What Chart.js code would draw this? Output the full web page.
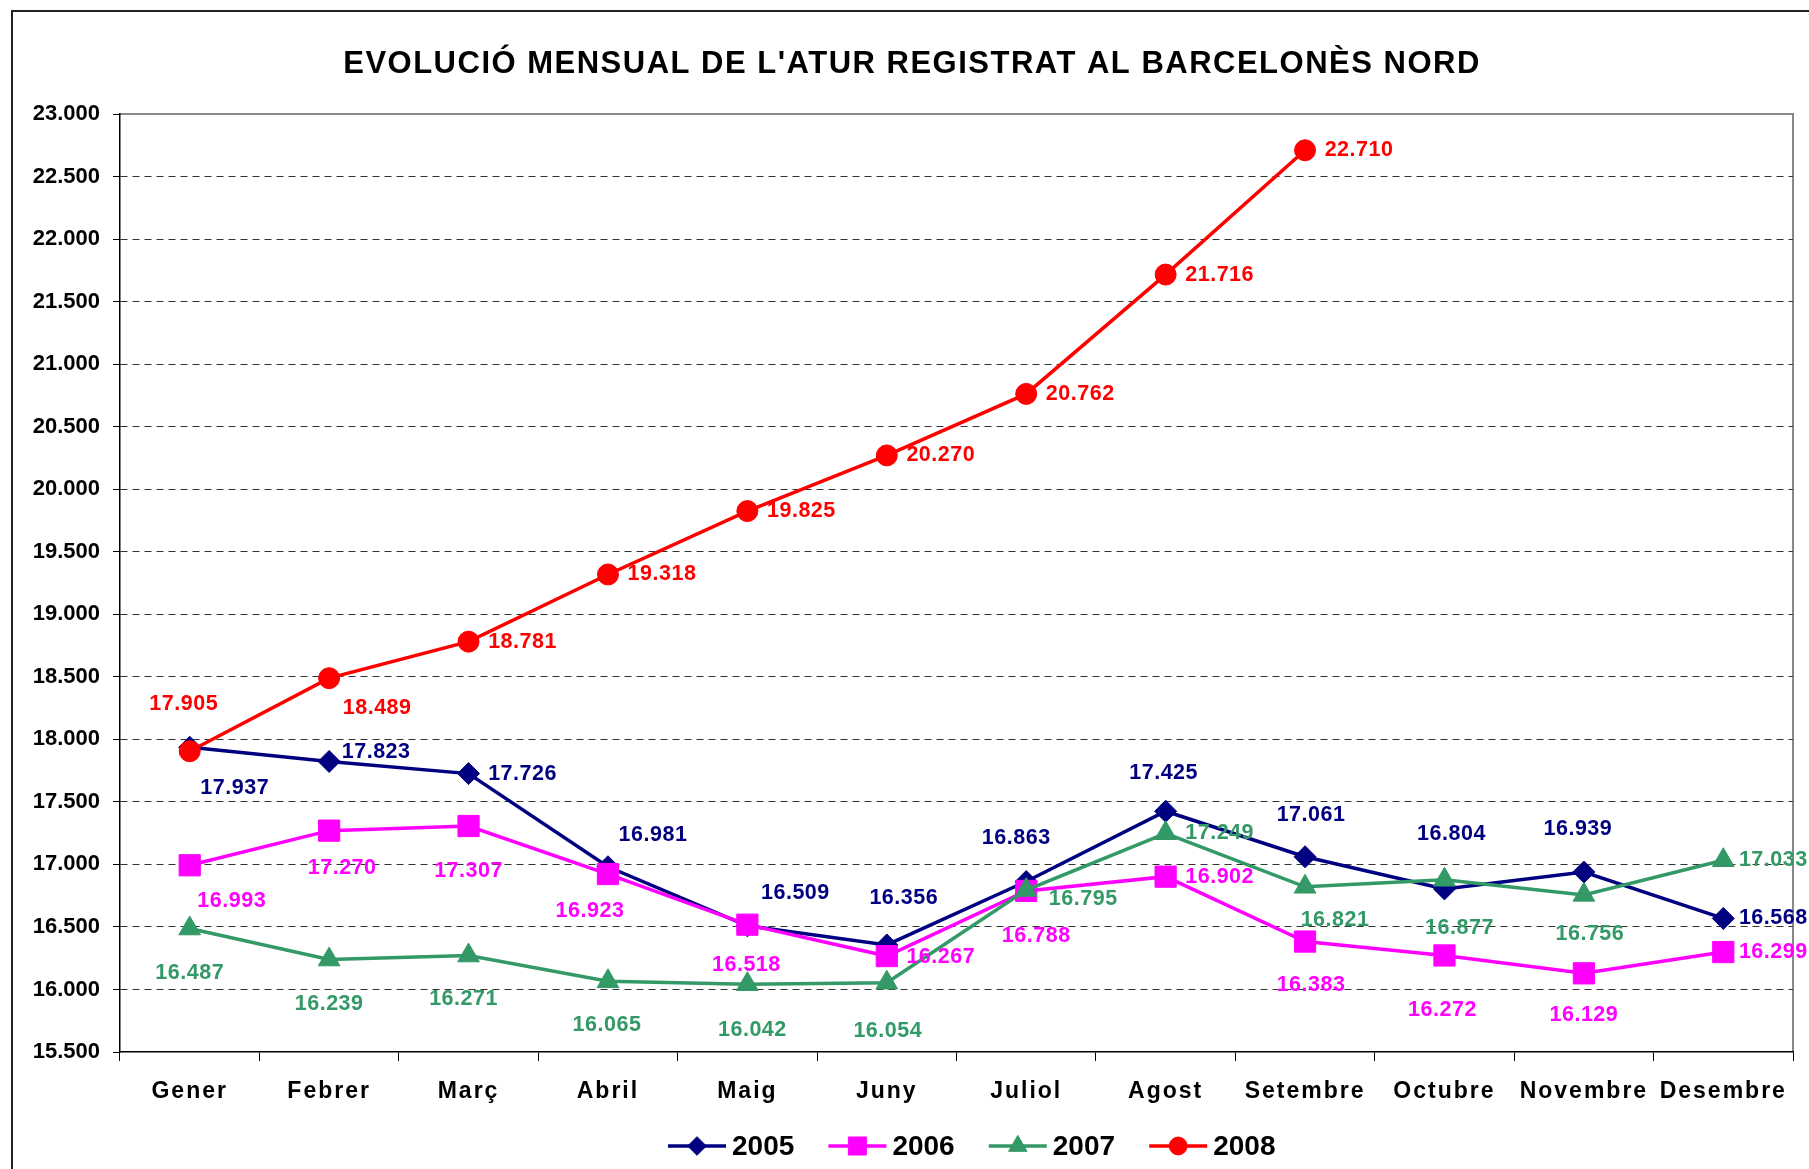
<!DOCTYPE html>
<html>
<head>
<meta charset="utf-8">
<script src="https://cdn.jsdelivr.net/npm/chart.js@4"></script>
<style>
  html, body { margin: 0; padding: 0; background: #fff; }
  #wrap { width: 1809px; height: 1169px; }
</style>
</head>
<body>
<div id="wrap"><canvas id="grafic" width="1809" height="1169"></canvas></div>
<script>
const titol = "EVOLUCIÓ MENSUAL DE L'ATUR REGISTRAT AL BARCELONÈS NORD";
const mesos = ["Gener", "Febrer", "Març", "Abril", "Maig", "Juny", "Juliol", "Agost", "Setembre", "Octubre", "Novembre", "Desembre"];
const anys = ["2005", "2006", "2007", "2008"];

const atur2005 = [17937, 17823, 17726, 16981, 16509, 16356, 16863, 17425, 17061, 16804, 16939, 16568];
const atur2006 = [16993, 17270, 17307, 16923, 16518, 16267, 16788, 16902, 16383, 16272, 16129, 16299];
const atur2007 = [16487, 16239, 16271, 16065, 16042, 16054, 16795, 17249, 16821, 16877, 16756, 17033];
const atur2008 = [17905, 18489, 18781, 19318, 19825, 20270, 20762, 21716, 22710];

const yMin = 15500, yMax = 23000, yPas = 500;

const colors = ["#000080", "#FF00FF", "#339966", "#FF0000"];
const marcadors = ["rectRot", "rect", "triangle", "circle"];
const midaMarcador = [11, 15, 12.5, 10.5];

// desplaçament de cada etiqueta respecte al seu punt (px)
const etiq2005 = [[45,41],[47,-9],[54,0],[45,-32],[48,-33],[17,-47],[-10,-43],[-2,-38],[6,-42],[7,-55],[-6,-43],[50,0]];
const etiq2006 = [[42,36],[13,37],[0,45],[-18,37],[-1,40],[54,1],[10,45],[54,0],[6,44],[-2,55],[0,42],[50,0]];
const etiq2007 = [[0,45],[0,45],[-5,44],[-1,44],[5,46],[1,48],[57,9],[54,0],[30,33],[15,48],[6,39],[50,0]];
const etiq2008 = [[-6,-47],[48,30],[54,0],[54,0],[54,0],[54,0],[54,0],[54,0],[54,0]];
const posEtiquetes = [etiq2005, etiq2006, etiq2007, etiq2008];

const FONT = "'Liberation Sans', Arial, sans-serif";

function fmt(v) {
  return String(v).replace(/\B(?=(\d{3})+(?!\d))/g, ".");
}

const series = [atur2005, atur2006, atur2007, atur2008];

const datasets = series.map((dades, i) => ({
  label: anys[i],
  data: dades,
  borderColor: colors[i],
  backgroundColor: colors[i],
  borderWidth: 3.5,
  pointStyle: marcadors[i],
  pointRadius: midaMarcador[i],
  pointBorderWidth: 1,
  pointBackgroundColor: colors[i],
  pointBorderColor: colors[i],
  tension: 0,
  fill: false,
  clip: false,
  order: 3 - i,
}));

const fons = {
  id: "fons",
  beforeDraw(chart) {
    const ctx = chart.ctx;
    const a = chart.chartArea;
    ctx.save();
    ctx.fillStyle = "#fff";
    ctx.fillRect(0, 0, chart.width, chart.height);
    // marc exterior
    ctx.strokeStyle = "#222";
    ctx.lineWidth = 2;
    ctx.beginPath();
    ctx.moveTo(12, chart.height);
    ctx.lineTo(12, 11);
    ctx.lineTo(chart.width, 11);
    ctx.stroke();
    // marc de l'àrea de dibuix
    ctx.strokeStyle = "#888";
    ctx.lineWidth = 2;
    ctx.beginPath();
    ctx.moveTo(a.left, a.top);
    ctx.lineTo(a.right, a.top);
    ctx.lineTo(a.right, a.bottom);
    ctx.stroke();
    ctx.restore();

    // espaiat de lletres per als mesos
    const sx = chart.scales.x;
    if (!sx._espaiat) {
      const orig = sx.drawLabels.bind(sx);
      sx.drawLabels = function (area) {
        const c = this.ctx;
        c.save();
        c.letterSpacing = "2px";
        orig(area);
        c.restore();
      };
      sx._espaiat = true;
    }
  },
  afterDatasetsDraw(chart) {
    const ctx = chart.ctx;
    ctx.save();
    ctx.font = "bold 21.5px " + FONT;
    ctx.letterSpacing = "0.5px";
    ctx.textAlign = "center";
    ctx.textBaseline = "middle";
    chart.data.datasets.forEach((ds, i) => {
      const meta = chart.getDatasetMeta(i);
      const offs = posEtiquetes[i];
      ctx.fillStyle = colors[i];
      meta.data.forEach((pt, j) => {
        const v = ds.data[j];
        if (v == null) return;
        ctx.fillText(fmt(v), pt.x + offs[j][0], pt.y + offs[j][1]);
      });
    });
    ctx.restore();
  },
  afterDraw(chart) {
    const ctx = chart.ctx;
    ctx.save();
    // títol
    ctx.font = "bold 31px " + FONT;
    ctx.letterSpacing = "1.5px";
    ctx.fillStyle = "#000";
    ctx.textAlign = "center";
    ctx.textBaseline = "middle";
    ctx.fillText(titol, 912, 64);

    // llegenda
    ctx.font = "bold 28px " + FONT;
    ctx.letterSpacing = "0px";
    ctx.textAlign = "left";
    let x = 668;
    const y = 1146;
    anys.forEach((a, i) => {
      ctx.strokeStyle = colors[i];
      ctx.fillStyle = colors[i];
      ctx.lineWidth = 3.5;
      ctx.beginPath();
      ctx.moveTo(x, y);
      ctx.lineTo(x + 58, y);
      ctx.stroke();
      ctx.lineWidth = 1;
      Chart.helpers.drawPoint(ctx, {
        pointStyle: marcadors[i],
        radius: midaMarcador[i] * 0.85,
        borderWidth: 1,
        rotation: 0,
      }, x + 29, y);
      ctx.fillStyle = "#000";
      ctx.fillText(a, x + 64, y + 1);
      x += 160.4;
    });
    ctx.restore();
  },
};

new Chart(document.getElementById("grafic"), {
  type: "line",
  data: { labels: mesos, datasets: datasets },
  options: {
    responsive: false,
    devicePixelRatio: 1,
    animation: false,
    layout: { padding: { top: 114, left: 0, right: 15, bottom: 0 } },
    plugins: {
      legend: { display: false },
      title: { display: false },
      tooltip: { enabled: false },
    },
    scales: {
      x: {
        offset: true,
        afterFit(scale) { scale.height = 117; },
        border: { color: "#000", width: 1.5 },
        grid: {
          offset: true,
          drawOnChartArea: false,
          drawTicks: true,
          tickLength: 9,
          tickColor: "#000",
          color: "#000",
        },
        ticks: {
          color: "#000",
          padding: 17,
          maxRotation: 0,
          autoSkip: false,
          font: { family: FONT, size: 23, weight: "bold" },
        },
      },
      y: {
        min: yMin,
        max: yMax,
        afterFit(scale) { scale.width = 120; },
        border: { color: "#000", width: 1.5, dash: [7, 5] },
        grid: {
          color: (c) => (c.tick && (c.tick.value === yMin || c.tick.value === yMax)) ? "rgba(0,0,0,0)" : "#333",
          lineWidth: 1,
          tickBorderDash: [],
          tickColor: "#000",
          tickLength: 7,
        },
        ticks: {
          stepSize: yPas,
          color: "#000",
          padding: 13,
          font: { family: FONT, size: 22, weight: "bold" },
          callback: (v) => fmt(v),
        },
      },
    },
  },
  plugins: [fons],
});
</script>
</body>
</html>
